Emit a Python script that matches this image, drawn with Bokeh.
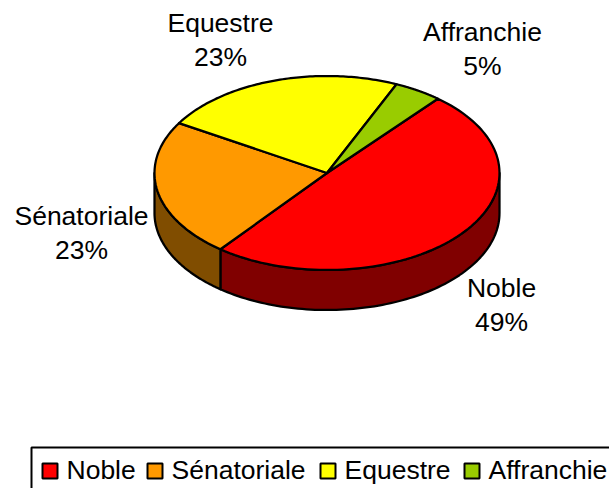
import math
from bokeh.plotting import figure
from bokeh.models import Range1d
from bokeh.core.properties import value
from bokeh.embed import file_html
from bokeh.resources import INLINE

categories = ["Noble", "Sénatoriale", "Equestre", "Affranchie"]
shares = [49.49, 23.0, 23.0, 4.51]
pct_labels = ["49%", "23%", "23%", "5%"]
top_colors = ["#FF0000", "#FF9900", "#FFFF00", "#99CC00"]
wall_colors = ["#800000", "#804D00", "#808000", "#4D6600"]

W, H = 609, 488
CX, CY, RX, RY, DEPTH = 326.5, 172.5, 172.5, 97.0, 40.0
START = 40.0
FONT = value("Liberation Sans")
FS = "26.5px"
TEXT_SHIFT = -10
EDGE = 2.25

label_x = [501, 81, 220, 482]
label_y = [297, 225, 32, 41]
LINE_GAP = 34
legend_swatch_x = [42, 147, 320, 464]
legend_text_x = [66, 171, 344, 488]
LEGEND_TEXT_Y = 479


def pt(a, dy=0.0):
    r = math.radians(a)
    return CX + RX * math.sin(r), CY - RY * math.cos(r) + dy


def arc(a0, a1, dy=0.0, n=90):
    return [pt(a0 + (a1 - a0) * i / n, dy) for i in range(n + 1)]


p = figure(width=W, height=H, output_backend="svg", toolbar_location=None,
           x_range=Range1d(0, W), y_range=Range1d(H, 0),
           min_border=0, outline_line_color=None, background_fill_color="white",
           border_fill_color="white")
p.xaxis.visible = False
p.yaxis.visible = False
p.xgrid.visible = False
p.ygrid.visible = False

spans = []
a = START
for s in shares:
    b = a + s * 3.6
    spans.append((a, b))
    a = b

wx, wy, wc = [], [], []
for (a0, a1), c in zip(spans, wall_colors):
    lo, hi = max(a0, 90), min(a1, 270)
    if lo < hi:
        pts = arc(lo, hi) + arc(hi, lo, DEPTH)
        wx.append([q[0] for q in pts])
        wy.append([q[1] for q in pts])
        wc.append(c)
p.patches(wx, wy, fill_color=wc, line_color="black", line_width=EDGE, line_join="round")

tx, ty = [], []
for (a0, a1) in spans:
    pts = [(CX, CY)] + arc(a0, a1)
    tx.append([q[0] for q in pts])
    ty.append([q[1] for q in pts])
p.patches(tx, ty, fill_color=top_colors, line_color="black", line_width=EDGE, line_join="round")

p.text(label_x, [y + TEXT_SHIFT for y in label_y], text=categories, text_font=FONT, text_font_size=FS,
       text_align="center", text_baseline="alphabetic", text_color="black")
p.text(label_x, [y + LINE_GAP + TEXT_SHIFT for y in label_y], text=pct_labels, text_font=FONT, text_font_size=FS,
       text_align="center", text_baseline="alphabetic", text_color="black")

p.quad(left=[31], right=[W + 20], top=[447], bottom=[H + 20],
       fill_color="white", line_color="black", line_width=2)
p.quad(left=legend_swatch_x, right=[x + 15 for x in legend_swatch_x],
       top=[463] * 4, bottom=[478] * 4,
       fill_color=top_colors, line_color="black", line_width=2)
p.text(legend_text_x, [LEGEND_TEXT_Y + TEXT_SHIFT] * 4, text=categories, text_font=FONT, text_font_size=FS,
       text_align="left", text_baseline="alphabetic", text_color="black")

open("out.html", "w").write(file_html(p, INLINE))
